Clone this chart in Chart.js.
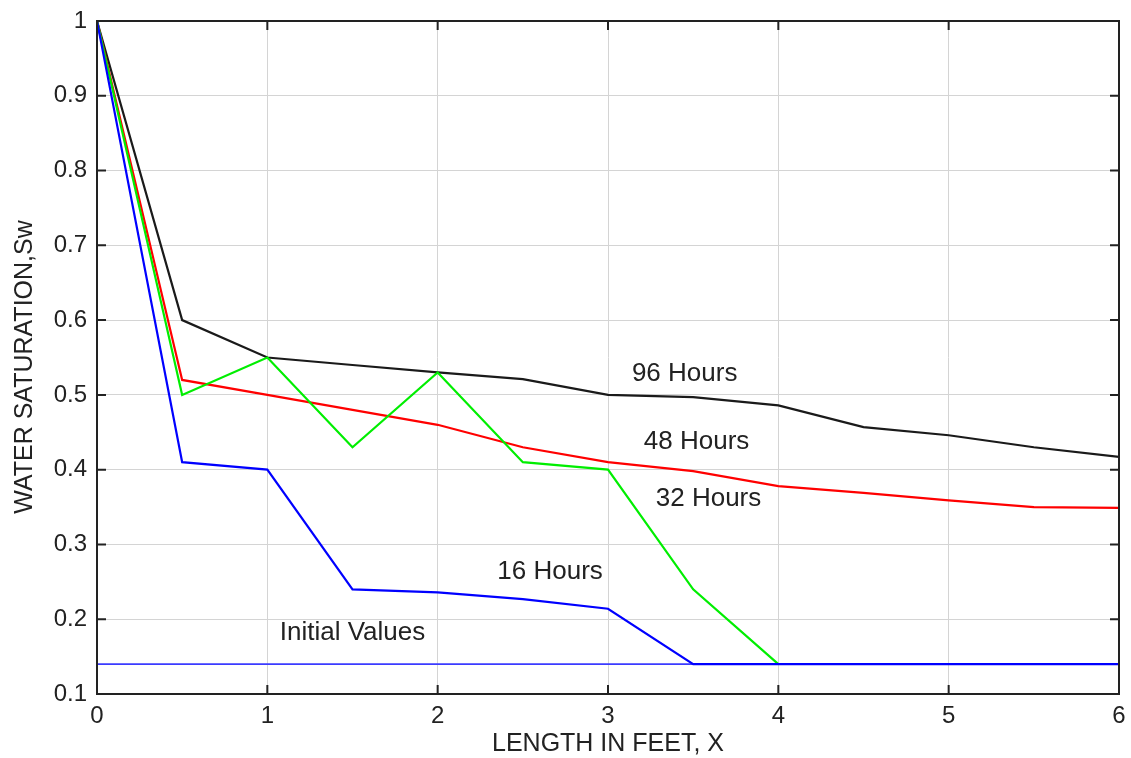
<!DOCTYPE html>
<html>
<head>
<meta charset="utf-8">
<script src="https://cdn.jsdelivr.net/npm/chart.js@4"></script>
<style>
  html, body { margin: 0; padding: 0; background: #fff; }
  #wrap { width: 1131px; height: 758px; }
</style>
</head>
<body>
<div id="wrap"><canvas id="satChart"></canvas></div>
<script>
// length in feet
const lengthFt = [0, 0.5, 1, 1.5, 2, 2.5, 3, 3.5, 4, 4.5, 5, 5.5, 6];
const sw16 = [1, 0.41, 0.40, 0.24, 0.236, 0.227, 0.214, 0.14, 0.14, 0.14, 0.14, 0.14, 0.14];
const sw32 = [1, 0.50, 0.55, 0.43, 0.53, 0.41, 0.40, 0.24, 0.14];
const sw48 = [1, 0.52, 0.50, 0.48, 0.46, 0.43, 0.41, 0.398, 0.378, 0.369, 0.359, 0.350, 0.349];
const sw96 = [1, 0.60, 0.55, 0.54, 0.53, 0.521, 0.50, 0.497, 0.486, 0.457, 0.446, 0.430, 0.417];
const swInitial = [0.14, 0.14, 0.14, 0.14, 0.14, 0.14, 0.14, 0.14, 0.14, 0.14, 0.14, 0.14, 0.14];

const xTicks = [0, 1, 2, 3, 4, 5, 6];
const yTicks = [0.1, 0.2, 0.3, 0.4, 0.5, 0.6, 0.7, 0.8, 0.9, 1];

const curveLabels = [
  { text: '96 Hours', x: 3.45, y: 0.528 },
  { text: '48 Hours', x: 3.52, y: 0.437 },
  { text: '32 Hours', x: 3.59, y: 0.361 },
  { text: '16 Hours', x: 2.66, y: 0.264 },
  { text: 'Initial Values', x: 1.50, y: 0.182 },
];

const toPoints = (ys) => ys.map((y, i) => ({ x: lengthFt[i], y }));
const FONT = 'Liberation Sans, Arial, sans-serif';

// frame, inward ticks, axis titles and curve labels
const framePlugin = {
  id: 'frame',
  afterDatasetsDraw(chart) {
    const { ctx, chartArea: a, scales } = chart;
    ctx.save();
    ctx.strokeStyle = '#222';
    ctx.lineWidth = 2;
    ctx.strokeRect(a.left, a.top, a.right - a.left, a.bottom - a.top);
    ctx.beginPath();
    xTicks.forEach((v) => {
      const px = scales.x.getPixelForValue(v);
      ctx.moveTo(px, a.bottom); ctx.lineTo(px, a.bottom - 9);
      ctx.moveTo(px, a.top); ctx.lineTo(px, a.top + 9);
    });
    yTicks.forEach((v) => {
      const py = scales.y.getPixelForValue(v);
      ctx.moveTo(a.left, py); ctx.lineTo(a.left + 9, py);
      ctx.moveTo(a.right, py); ctx.lineTo(a.right - 9, py);
    });
    ctx.stroke();

    ctx.fillStyle = '#222';
    ctx.textAlign = 'center';
    ctx.textBaseline = 'middle';
    ctx.font = '26px ' + FONT;
    curveLabels.forEach((l) => {
      ctx.fillText(l.text, scales.x.getPixelForValue(l.x), scales.y.getPixelForValue(l.y));
    });

    ctx.font = '25px ' + FONT;
    ctx.fillText('LENGTH IN FEET, X', (a.left + a.right) / 2, 744);
    ctx.translate(25, 367);
    ctx.rotate(-Math.PI / 2);
    ctx.fillText('WATER SATURATION,Sw', 0, 0);
    ctx.restore();
  }
};

const line = (label, ys, color, width) => ({
  label,
  data: toPoints(ys),
  borderColor: color,
  borderWidth: width,
  pointRadius: 0,
  tension: 0,
  fill: false,
});

new Chart(document.getElementById('satChart'), {
  type: 'line',
  data: {
    datasets: [
      line('16 Hours', sw16, '#0000ff', 2.2),
      line('Initial Values', swInitial, '#3b3bff', 1.6),
      line('32 Hours', sw32, '#00ee00', 2.2),
      line('48 Hours', sw48, '#ff0000', 2.2),
      line('96 Hours', sw96, '#1a1a1a', 2.2),
    ],
  },
  options: {
    responsive: true,
    maintainAspectRatio: false,
    animation: false,
    layout: { padding: { left: 0, top: 21, right: 12, bottom: 0 } },
    plugins: { legend: { display: false }, tooltip: { enabled: false } },
    scales: {
      x: {
        type: 'linear',
        min: 0,
        max: 6,
        afterBuildTicks: (s) => { s.ticks = xTicks.map((v) => ({ value: v })); },
        afterFit: (s) => { s.height = 64; s.paddingLeft = 0; s.paddingRight = 0; },
        grid: { color: '#d4d4d4', lineWidth: 1, drawTicks: false },
        border: { display: false },
        ticks: { color: '#222', font: { family: FONT, size: 24 }, padding: 8 },
      },
      y: {
        type: 'linear',
        min: 0.1,
        max: 1,
        afterBuildTicks: (s) => { s.ticks = yTicks.map((v) => ({ value: v })); },
        afterFit: (s) => { s.width = 97; s.paddingTop = 0; s.paddingBottom = 0; },
        grid: { color: '#d4d4d4', lineWidth: 1, drawTicks: false },
        border: { display: false },
        ticks: {
          color: '#222',
          font: { family: FONT, size: 24 },
          padding: 10,
          callback: (v) => String(Number(v.toFixed(1))),
        },
      },
    },
  },
  plugins: [framePlugin],
});
</script>
</body>
</html>
